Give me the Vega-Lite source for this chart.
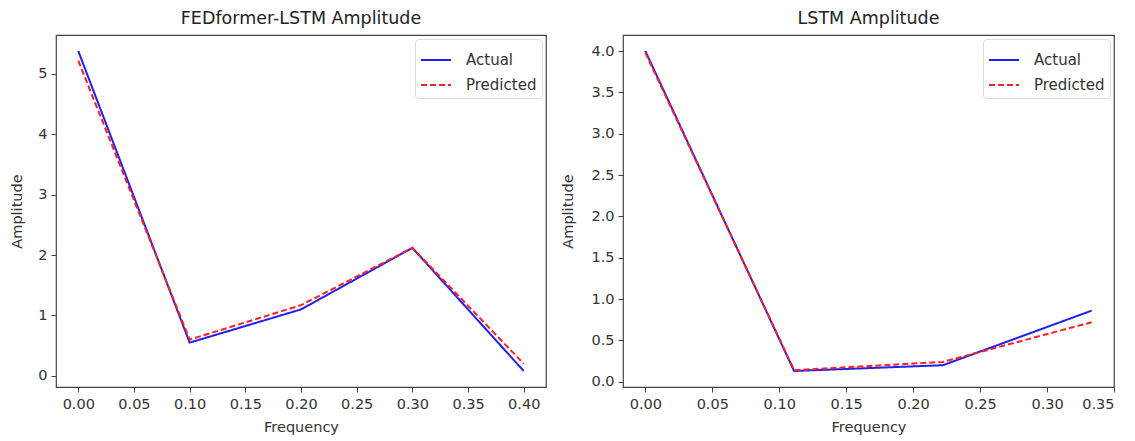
{
  "$schema": "https://vega.github.io/schema/vega-lite/v6.json",
  "padding": {"left": 8, "top": 8, "right": 5, "bottom": 0},
  "background": "white",
  "bounds": "flush",
  "spacing": 77,
  "config": {
    "font": "DejaVu Sans",
    "view": {"stroke": "#444", "strokeWidth": 1.2},
    "axis": {
      "grid": false, "domain": false, "tickColor": "#444", "tickSize": 5, "tickWidth": 1,
      "labelFont": "DejaVu Sans", "labelFontSize": 14.5, "labelColor": "#333",
      "titleFont": "DejaVu Sans", "titleFontSize": 14.5, "titleFontWeight": "normal", "titleColor": "#333"
    },
    "axisX": {"labelPadding": 5, "titlePadding": 10},
    "axisY": {"labelPadding": 4, "titlePadding": 14.5},
    "title": {"font": "DejaVu Sans", "fontSize": 17.5, "fontWeight": "normal", "color": "#222", "offset": 8},
    "legend": {
      "orient": "top-right", "offset": 4, "title": null,
      "labelFont": "DejaVu Sans", "labelFontSize": 15, "labelColor": "#333", "labelOffset": 14,
      "symbolType": "stroke", "symbolSize": 900, "symbolStrokeWidth": 2,
      "fillColor": "white", "strokeColor": "#ddd", "cornerRadius": 3, "padding": 5, "rowPadding": 1
    }
  },
  "datasets": {
    "fed": [
      {"freq": 0.0, "amp": 5.38, "series": "Actual"},
      {"freq": 0.1, "amp": 0.55, "series": "Actual"},
      {"freq": 0.2, "amp": 1.10, "series": "Actual"},
      {"freq": 0.3, "amp": 2.12, "series": "Actual"},
      {"freq": 0.4, "amp": 0.08, "series": "Actual"},
      {"freq": 0.0, "amp": 5.22, "series": "Predicted"},
      {"freq": 0.1, "amp": 0.60, "series": "Predicted"},
      {"freq": 0.2, "amp": 1.17, "series": "Predicted"},
      {"freq": 0.3, "amp": 2.12, "series": "Predicted"},
      {"freq": 0.4, "amp": 0.20, "series": "Predicted"}
    ],
    "lstm": [
      {"freq": 0.0, "amp": 4.0, "series": "Actual"},
      {"freq": 0.1111, "amp": 0.13, "series": "Actual"},
      {"freq": 0.2222, "amp": 0.20, "series": "Actual"},
      {"freq": 0.3333, "amp": 0.86, "series": "Actual"},
      {"freq": 0.0, "amp": 3.98, "series": "Predicted"},
      {"freq": 0.1111, "amp": 0.14, "series": "Predicted"},
      {"freq": 0.2222, "amp": 0.24, "series": "Predicted"},
      {"freq": 0.3333, "amp": 0.72, "series": "Predicted"}
    ]
  },
  "hconcat": [
    {
      "title": "FEDformer-LSTM Amplitude",
      "width": 490, "height": 352,
      "data": {"name": "fed"},
      "mark": {"type": "line", "strokeWidth": 2},
      "encoding": {
        "x": {"field": "freq", "type": "quantitative", "title": "Frequency",
              "scale": {"domain": [-0.02, 0.42], "nice": false, "zero": false},
              "axis": {"values": [0, 0.05, 0.1, 0.15, 0.2, 0.25, 0.3, 0.35, 0.4], "format": ".2f"}},
        "y": {"field": "amp", "type": "quantitative", "title": "Amplitude",
              "scale": {"domain": [-0.185, 5.645], "nice": false, "zero": false},
              "axis": {"values": [0, 1, 2, 3, 4, 5], "format": "d", "titlePadding": 13.5}},
        "color": {"field": "series", "type": "nominal",
                  "scale": {"domain": ["Actual", "Predicted"], "range": ["#2020f5", "#ff2020"]}},
        "strokeDash": {"field": "series", "type": "nominal",
                       "scale": {"domain": ["Actual", "Predicted"], "range": [[1, 0], [6, 3]]}}
      }
    },
    {
      "title": "LSTM Amplitude",
      "width": 491, "height": 352,
      "data": {"name": "lstm"},
      "mark": {"type": "line", "strokeWidth": 2},
      "encoding": {
        "x": {"field": "freq", "type": "quantitative", "title": "Frequency",
              "scale": {"domain": [-0.01667, 0.35], "nice": false, "zero": false},
              "axis": {"values": [0, 0.05, 0.1, 0.15, 0.2, 0.25, 0.3, 0.35], "format": ".2f"}},
        "y": {"field": "amp", "type": "quantitative", "title": "Amplitude",
              "scale": {"domain": [-0.0635, 4.1935], "nice": false, "zero": false},
              "axis": {"values": [0, 0.5, 1, 1.5, 2, 2.5, 3, 3.5, 4], "format": ".1f", "titlePadding": 15.5}},
        "color": {"field": "series", "type": "nominal",
                  "scale": {"domain": ["Actual", "Predicted"], "range": ["#2020f5", "#ff2020"]}},
        "strokeDash": {"field": "series", "type": "nominal",
                       "scale": {"domain": ["Actual", "Predicted"], "range": [[1, 0], [6, 3]]}}
      }
    }
  ],
  "resolve": {"scale": {"color": "independent", "strokeDash": "independent"}}
}
